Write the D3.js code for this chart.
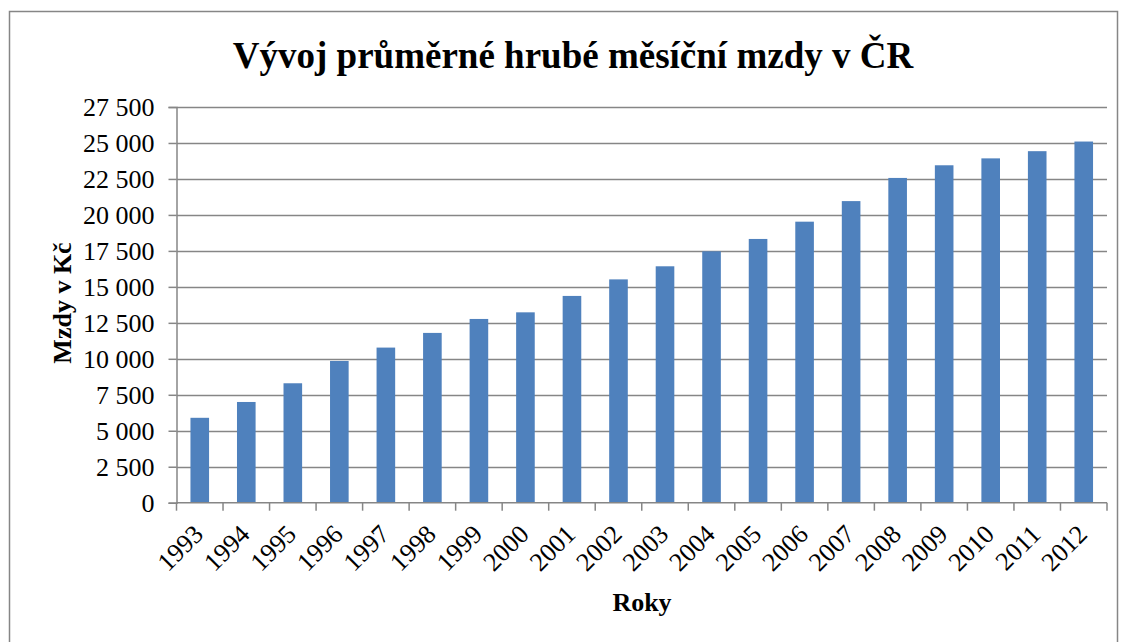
<!DOCTYPE html>
<html>
<head>
<meta charset="utf-8">
<script src="https://cdn.jsdelivr.net/npm/d3@7"></script>
<style>
  body { margin: 0; background: #fff; }
  text { font-family: "Liberation Serif", "Times New Roman", serif; fill: #000; }
</style>
</head>
<body>
<svg id="chart" width="1125" height="642"></svg>
<script>

var years = ["1993","1994","1995","1996","1997","1998","1999","2000","2001","2002",
             "2003","2004","2005","2006","2007","2008","2009","2010","2011","2012"];
var wages = [5900, 7000, 8300, 9850, 10780, 11800, 12770, 13230, 14370, 15520,
             16430, 17470, 18330, 19530, 20960, 22570, 23450, 23930, 24430, 25100];
var yTicks = [0, 2500, 5000, 7500, 10000, 12500, 15000, 17500, 20000, 22500, 25000, 27500];

var chartTitle = "Vývoj průměrné hrubé měsíční mzdy v ČR",
    xTitle = "Roky",
    yTitle = "Mzdy v Kč";

var svg = d3.select("#chart");

var plot = { left: 176.5, top: 107, right: 1107, bottom: 502.7 },
    axisColor = "#868686";

// outer frame
svg.append("rect")
   .attr("x", 9.5).attr("y", 11.5)
   .attr("width", 1108).attr("height", 640)
   .attr("fill", "none")
   .attr("stroke", axisColor)
   .attr("stroke-width", 1.5);

var x = d3.scaleBand()
          .domain(years)
          .range([plot.left, plot.right])
          .paddingInner(0.6)
          .paddingOuter(0.3);

var y = d3.scaleLinear()
          .domain([0, 27500])
          .range([plot.bottom, plot.top]);

// space as thousands separator, like the original
var fmt = function(d) { return d3.format(",")(d).replace(/,/g, " "); };

// gridlines
svg.append("g")
   .selectAll("line")
   .data(yTicks.filter(function(d) { return d > 0; }))
   .join("line")
   .attr("x1", plot.left).attr("x2", plot.right)
   .attr("y1", function(d) { return Math.round(y(d)) + 0.5; })
   .attr("y2", function(d) { return Math.round(y(d)) + 0.5; })
   .attr("stroke", axisColor)
   .attr("stroke-width", 1.3);

// bars
svg.append("g")
   .selectAll("rect")
   .data(wages)
   .join("rect")
   .attr("x", function(d, i) { return x(years[i]); })
   .attr("width", x.bandwidth())
   .attr("y", function(d) { return y(d); })
   .attr("height", function(d) { return plot.bottom - y(d); })
   .attr("fill", "#4F81BD");

// y axis
var yAxis = svg.append("g")
   .attr("transform", "translate(" + plot.left + ",0)")
   .call(d3.axisLeft(y).tickValues(yTicks).tickFormat(fmt).tickSize(8).tickPadding(14));
yAxis.select(".domain").attr("stroke", axisColor).attr("stroke-width", 1.5);
yAxis.selectAll(".tick line").attr("stroke", axisColor).attr("stroke-width", 1.5);
yAxis.selectAll(".tick text")
     .style("font-size", "26px")
     .attr("fill", "#000");

// x axis, ticks on band boundaries
var xBounds = d3.range(years.length + 1).map(function(i) {
  return plot.left + i * (plot.right - plot.left) / years.length;
});

svg.append("line")
   .attr("x1", plot.left).attr("x2", plot.right)
   .attr("y1", plot.bottom).attr("y2", plot.bottom)
   .attr("stroke", axisColor).attr("stroke-width", 1.5);

svg.append("g")
   .selectAll("line")
   .data(xBounds)
   .join("line")
   .attr("x1", function(d) { return d; }).attr("x2", function(d) { return d; })
   .attr("y1", plot.bottom).attr("y2", plot.bottom + 8)
   .attr("stroke", axisColor).attr("stroke-width", 1.5);

svg.append("g")
   .selectAll("text")
   .data(years)
   .join("text")
   .attr("transform", function(d) {
     return "translate(" + (x(d) + x.bandwidth() / 2 + 5) + "," + (plot.bottom + 33) + ") rotate(-45)";
   })
   .attr("text-anchor", "end")
   .style("font-size", "26px")
   .text(function(d) { return d; });

// titles
svg.append("text")
   .attr("x", 573).attr("y", 68)
   .attr("text-anchor", "middle")
   .style("font-size", "37px")
   .style("font-weight", "bold")
   .text(chartTitle);

svg.append("text")
   .attr("x", 642).attr("y", 611)
   .attr("text-anchor", "middle")
   .style("font-size", "26px")
   .style("font-weight", "bold")
   .text(xTitle);

svg.append("text")
   .attr("transform", "translate(71,303) rotate(-90)")
   .attr("text-anchor", "middle")
   .style("font-size", "26px")
   .style("font-weight", "bold")
   .text(yTitle);

</script>
</body>
</html>
